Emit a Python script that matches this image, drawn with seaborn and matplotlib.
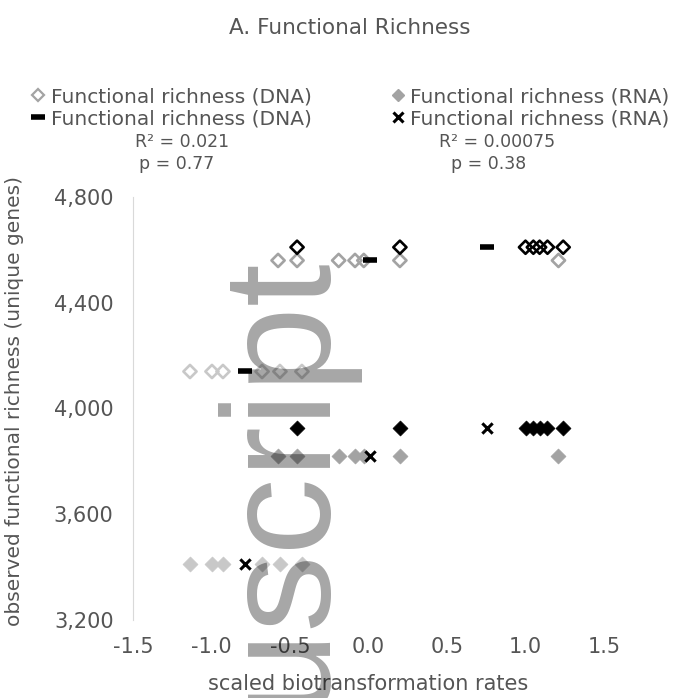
import matplotlib
matplotlib.use('Agg')
import matplotlib.pyplot as plt
from matplotlib.lines import Line2D
from matplotlib.ticker import FuncFormatter
import numpy as np
import pandas as pd
import seaborn as sns

# scaled biotransformation rates, one list per sample group
rates_a = [-0.455, 0.20, 1.00, 1.05, 1.09, 1.14, 1.24]
rates_b = [-0.576, -0.455, -0.19, -0.086, -0.03, 0.20, 1.21]
rates_c = [-1.137, -0.997, -0.927, -0.678, -0.564, -0.424]

# observed functional richness (unique genes) of each group
groups = ['a', 'b', 'c']
dna_richness = [4610, 4560, 4140]
rna_richness = [3928, 3819, 3411]

x_ticks = [-1.5, -1.0, -0.5, 0.0, 0.5, 1.0, 1.5]
y_ticks = [3200, 3600, 4000, 4400, 4800]

dna_stats = ['R² = 0.021', 'p = 0.77']
rna_stats = ['R² = 0.00075', 'p = 0.38']

palette = {'a': '#000000', 'b': '#a3a3a3', 'c': '#c8c8c8'}
txt = '#555555'

rows = []
for g, rates, dna, rna in zip(groups, [rates_a, rates_b, rates_c], dna_richness, rna_richness):
    for r in rates:
        rows.append((g, r, 'DNA', dna))
        rows.append((g, r, 'RNA', rna))
df = pd.DataFrame(rows, columns=['group', 'rate', 'assay', 'richness'])

# group means drawn as dash / cross
means = df.groupby(['assay', 'group'], as_index=False)[['rate', 'richness']].mean()

sns.set_style('white')
plt.rcParams['font.family'] = ['DejaVu Sans']

fig = plt.figure(figsize=(6.94, 6.98), dpi=100)
ax = fig.add_axes([133 / 694, 1 - 620 / 698, 471 / 694, 423 / 698])

for g in ['c', 'b', 'a']:
    sub = df[(df.assay == 'DNA') & (df.group == g)]
    sns.scatterplot(data=sub, x='rate', y='richness', ax=ax, marker='D', s=45,
                    color=palette[g], facecolor='none', edgecolor=palette[g],
                    linewidth=1.9, zorder=3)
    sub = df[(df.assay == 'RNA') & (df.group == g)]
    sns.scatterplot(data=sub, x='rate', y='richness', ax=ax, marker='D', s=58,
                    color=palette[g], edgecolor=palette[g], linewidth=0.5, zorder=3)

sns.scatterplot(data=means[means.assay == 'DNA'], x='rate', y='richness', ax=ax,
                marker='_', s=110, color='black', linewidth=4, zorder=4)
sns.scatterplot(data=means[means.assay == 'RNA'], x='rate', y='richness', ax=ax,
                marker='x', s=55, color='black', linewidth=2.2, zorder=4)

ax.set_xlim(-1.5, 1.5)
ax.set_ylim(3200, 4800)
ax.set_xticks(x_ticks)
ax.set_yticks(y_ticks)
ax.xaxis.set_major_formatter(FuncFormatter(lambda v, p: f'{v:.1f}'))
ax.yaxis.set_major_formatter(FuncFormatter(lambda v, p: f'{v:,.0f}'))
for s in ['top', 'right', 'bottom']:
    ax.spines[s].set_visible(False)
ax.spines['left'].set_color('#d9d9d9')
ax.tick_params(axis='y', length=5, color='#d9d9d9', width=1, pad=9, labelsize=15, labelcolor=txt)
ax.tick_params(axis='x', length=0, pad=12, labelsize=15, labelcolor=txt)

ax.set_xlabel('scaled biotransformation rates', fontsize=15, color=txt)
ax.set_ylabel('observed functional richness (unique genes)', fontsize=14.5, color=txt)
ax.xaxis.set_label_coords(0.499, -0.128)
ax.yaxis.set_label_coords(-0.232, 0.518)

fig.text(350 / 694, 1 - 28 / 698, 'A. Functional Richness', ha='center', va='center',
         fontsize=15.5, color=txt)

handles = [
    Line2D([], [], marker='D', ls='none', markerfacecolor='none', markeredgecolor='#a3a3a3',
           markersize=6, markeredgewidth=1.6),
    Line2D([], [], marker='_', ls='none', color='black', markersize=10, markeredgewidth=4),
    Line2D([], [], marker='D', ls='none', markerfacecolor='#a3a3a3', markeredgecolor='#a3a3a3',
           markersize=6),
    Line2D([], [], marker='x', ls='none', color='black', markersize=7, markeredgewidth=2.2),
]
labels = ['Functional richness (DNA)', 'Functional richness (DNA)',
          'Functional richness (RNA)', 'Functional richness (RNA)']
fig.legend(handles, labels, ncol=2, loc='upper left', bbox_to_anchor=(0.038, 1 - 83 / 698),
           frameon=False, handlelength=0.8, handletextpad=0.2, columnspacing=3.9,
           labelspacing=0.15, fontsize=14.5, borderaxespad=0, borderpad=0.2,
           labelcolor=txt)

fig.text(182 / 694, 1 - 142 / 698, dna_stats[0], ha='center', va='center', fontsize=12.5, color=txt)
fig.text(177 / 694, 1 - 164 / 698, dna_stats[1], ha='center', va='center', fontsize=12.5, color=txt)
fig.text(497 / 694, 1 - 142 / 698, rna_stats[0], ha='center', va='center', fontsize=12.5, color=txt)
fig.text(489 / 694, 1 - 164 / 698, rna_stats[1], ha='center', va='center', fontsize=12.5, color=txt)

# watermark of the accepted manuscript
fig.text(318 / 694, 1 - 250 / 698, 'Manuscript', rotation=90, rotation_mode='anchor',
         ha='right', va='baseline', fontsize=111, family='Liberation Sans',
         color='black', alpha=0.35, zorder=10)

fig.savefig('out.png', dpi=100)
